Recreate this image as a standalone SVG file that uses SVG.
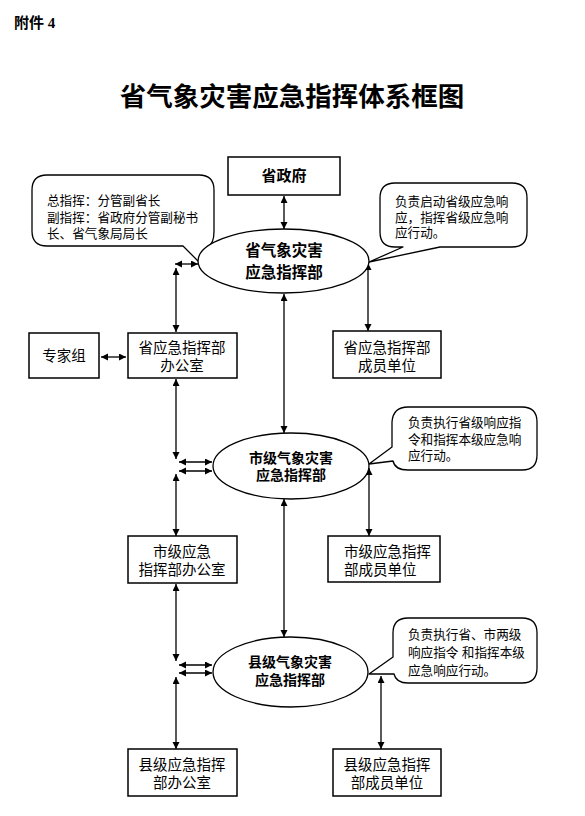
<svg xmlns="http://www.w3.org/2000/svg" width="585" height="816" viewBox="0 0 585 816">
<style>
  .box{fill:#fff;stroke:#000;stroke-width:1.5}
  .ell{fill:#fff;stroke:#000;stroke-width:1.3}
  .call{fill:#fff;stroke:#000;stroke-width:1.3;stroke-linejoin:round}
  .t{font-family:"Liberation Sans","Noto Sans CJK SC",sans-serif;font-size:14.5px;fill:#000}
  .tb{font-family:"Liberation Sans","Noto Sans CJK SC",sans-serif;font-weight:bold;fill:#000}
  .c{font-family:"Liberation Sans","Noto Sans CJK SC",sans-serif;font-size:12.6px;fill:#000}
  .m{text-anchor:middle}
  .ln{stroke:#000;stroke-width:1.3;fill:none;marker-start:url(#ah);marker-end:url(#ah)}
</style>
<defs>
  <marker id="ah" markerUnits="userSpaceOnUse" markerWidth="8" markerHeight="8" refX="7" refY="3.5" orient="auto-start-reverse">
    <path d="M0,0 L7,3.5 L0,7 Z" fill="#000"/>
  </marker>
</defs>
<rect width="585" height="816" fill="#fff"/>

<text x="14" y="28" font-family="'Liberation Serif','Noto Sans CJK SC',serif" font-weight="bold" font-size="15">附件 4</text>
<text x="292" y="106" class="tb m" font-size="26.5">省气象灾害应急指挥体系框图</text>

<g id="connectors">
  <line class="ln" x1="284" y1="196" x2="284" y2="229"/>
  <line class="ln" x1="175" y1="264" x2="198" y2="264"/>
  <line class="ln" x1="176" y1="268" x2="176" y2="332"/>
  <line class="ln" x1="284" y1="294" x2="284" y2="433"/>
  <line class="ln" x1="368" y1="263" x2="368" y2="331"/>
  <line class="ln" x1="101" y1="357" x2="126" y2="357"/>
  <line class="ln" x1="176" y1="379" x2="176" y2="459"/>
  <line class="ln" x1="179" y1="462" x2="212" y2="462"/>
  <line class="ln" x1="179" y1="471" x2="212" y2="471"/>
  <line class="ln" x1="176" y1="474" x2="176" y2="536"/>
  <line class="ln" x1="284" y1="499" x2="284" y2="637"/>
  <line class="ln" x1="369" y1="468" x2="369" y2="536"/>
  <line class="ln" x1="176" y1="584" x2="176" y2="661"/>
  <line class="ln" x1="179" y1="665" x2="212" y2="665"/>
  <line class="ln" x1="179" y1="673" x2="212" y2="673"/>
  <line class="ln" x1="176" y1="677" x2="176" y2="749"/>
  <line class="ln" x1="381" y1="676" x2="381" y2="749"/>
</g>

<g id="gov">
  <rect class="box" x="228" y="157" width="112" height="38"/>
  <text x="284" y="181" class="tb m" font-size="15">省政府</text>
</g>

<g id="callout1">
  <path class="call" d="M47,175 H199 Q214,175 214,190 V231 Q214,244 208,246 L200,263 L183,246 H47 Q32,246 32,231 V190 Q32,175 47,175 Z"/>
  <text class="c" x="47" y="205">总指挥：分管副省长</text>
  <text class="c" x="47" y="222">副指挥：省政府分管副秘书</text>
  <text class="c" x="47" y="238">长、省气象局局长</text>
</g>

<g id="callout2">
  <path class="call" d="M395,183 H512 Q527,183 527,198 V232 Q527,247 512,247 H440 L369,262 L403,247 H395 Q380,247 380,232 V198 Q380,183 395,183 Z"/>
  <text class="c" x="395" y="206">负责启动省级应急响</text>
  <text class="c" x="395" y="222">应，指挥省级应急响</text>
  <text class="c" x="395" y="237">应行动。</text>
</g>

<g id="prov-hq">
  <ellipse class="ell" cx="283.5" cy="261" rx="85.5" ry="32"/>
  <text x="284" y="256" class="tb m" font-size="15.5">省气象灾害</text>
  <text x="284" y="278" class="tb m" font-size="15.5">应急指挥部</text>
</g>

<g id="experts">
  <rect class="box" x="29" y="333" width="70" height="45"/>
  <text x="64" y="361" class="t m">专家组</text>
</g>

<g id="prov-office">
  <rect class="box" x="128" y="333" width="109" height="45"/>
  <text x="182" y="353" class="t m">省应急指挥部</text>
  <text x="182" y="371" class="t m">办公室</text>
</g>

<g id="prov-members">
  <rect class="box" x="333" y="331" width="108" height="47"/>
  <text x="387" y="353" class="t m">省应急指挥部</text>
  <text x="387" y="371" class="t m">成员单位</text>
</g>

<g id="callout3">
  <path class="call" d="M408,407 H522 Q537,407 537,422 V455 Q537,470 522,470 H408 Q395,470 393,461 L369,464 L392,447 V422 Q393,407 408,407 Z"/>
  <text class="c" x="408" y="427">负责执行省级响应指</text>
  <text class="c" x="408" y="444">令和指挥本级应急响</text>
  <text class="c" x="408" y="460">应行动。</text>
</g>

<g id="city-hq">
  <ellipse class="ell" cx="291" cy="466" rx="78" ry="33"/>
  <text x="291" y="463" class="tb m" font-size="14">市级气象灾害</text>
  <text x="291" y="480" class="tb m" font-size="14">应急指挥部</text>
</g>

<g id="city-office">
  <rect class="box" x="128" y="536" width="109" height="47"/>
  <text x="182" y="557" class="t m">市级应急</text>
  <text x="182" y="575" class="t m">指挥部办公室</text>
</g>

<g id="city-members">
  <rect class="box" x="328" y="536" width="112" height="46"/>
  <text x="344" y="557" class="t">市级应急指挥</text>
  <text x="344" y="575" class="t">部成员单位</text>
</g>

<g id="callout4">
  <path class="call" d="M408,618 H522 Q537,618 537,633 V668 Q537,683 522,683 H408 Q396,683 394,674 L369,674 L393,657 V633 Q393,618 408,618 Z"/>
  <text class="c" x="408" y="639">负责执行省、市两级</text>
  <text class="c" x="408" y="657">响应指令 和指挥本级</text>
  <text class="c" x="408" y="675">应急响应行动。</text>
</g>

<g id="county-hq">
  <ellipse class="ell" cx="290.5" cy="672" rx="77.5" ry="35"/>
  <text x="290" y="667" class="tb m" font-size="14">县级气象灾害</text>
  <text x="290" y="685" class="tb m" font-size="14">应急指挥部</text>
</g>

<g id="county-office">
  <rect class="box" x="128" y="749" width="109" height="47"/>
  <text x="182" y="770" class="t m">县级应急指挥</text>
  <text x="182" y="788" class="t m">部办公室</text>
</g>

<g id="county-members">
  <rect class="box" x="333" y="749" width="108" height="47"/>
  <text x="387" y="770" class="t m">县级应急指挥</text>
  <text x="387" y="788" class="t m">部成员单位</text>
</g>
</svg>
